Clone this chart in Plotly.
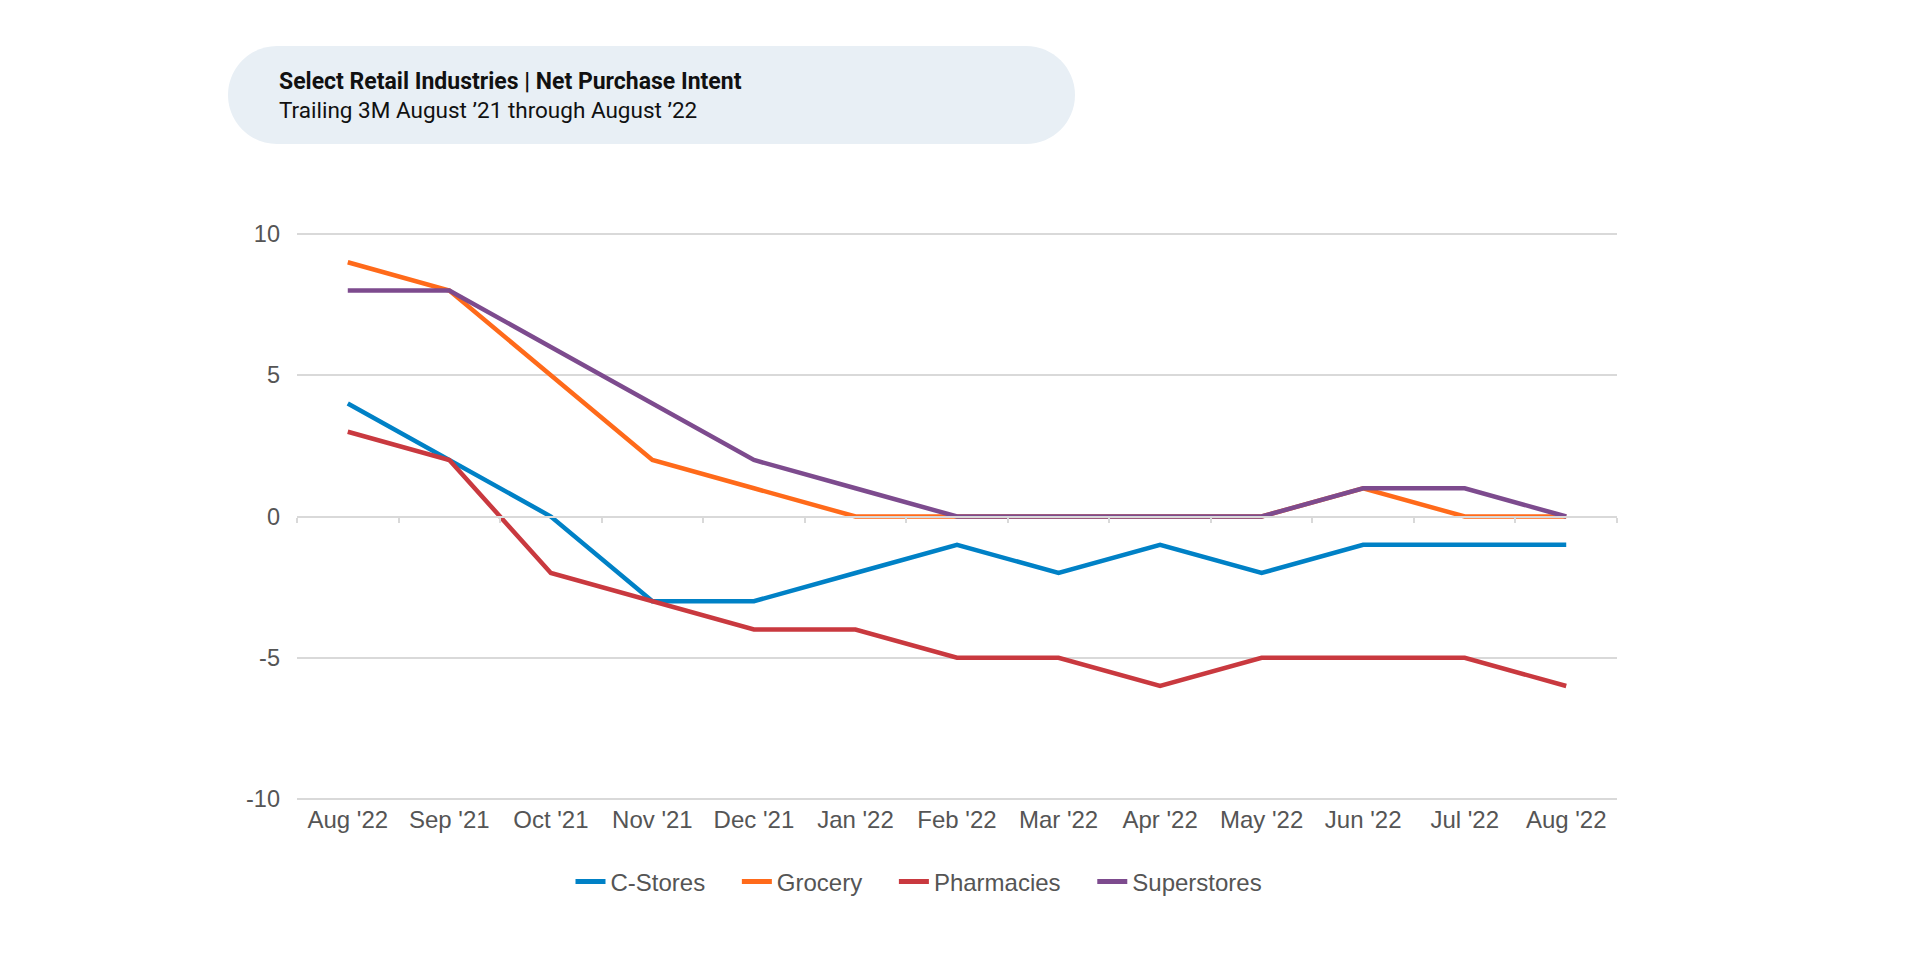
import plotly.graph_objects as go

months = ["Aug '22", "Sep '21", "Oct '21", "Nov '21", "Dec '21", "Jan '22", "Feb '22",
          "Mar '22", "Apr '22", "May '22", "Jun '22", "Jul '22", "Aug '22"]
c_stores = [4, 2, 0, -3, -3, -2, -1, -2, -1, -2, -1, -1, -1]
grocery = [9, 8, 5, 2, 1, 0, 0, 0, 0, 0, 1, 0, 0]
pharmacies = [3, 2, -2, -3, -4, -4, -5, -5, -6, -5, -5, -5, -6]
superstores = [8, 8, 6, 4, 2, 1, 0, 0, 0, 0, 1, 1, 0]
y_ticks = [-10, -5, 0, 5, 10]
y_ticktext = ["-10", "-5", "0", "5", "10"]

series_names = ["C-Stores", "Grocery", "Pharmacies", "Superstores"]
series_values = [c_stores, grocery, pharmacies, superstores]
colors = ["#0081C6", "#FF6A1A", "#C9393F", "#7D4B8E"]

# page body has an 8px default margin; work in figure coordinates
OFF = 8
W, H = 1920 - OFF, 960 - OFF
top_px, bot_px = 234, 799          # screen y of +10 and -10 gridlines
EXT = 3                            # extra px so edge gridlines are drawn
unit = (bot_px - top_px) / 20.0
pad = EXT / unit
L, T = 297 - OFF, top_px - OFF - EXT
R = W - (1617 - OFF)
B = H - (bot_px - OFF + EXT)
pw, ph = W - L - R, H - T - B

def px(x):
    return (x - OFF - L) / pw

def py(y):
    return (H - B - (y - OFF)) / ph

idx = list(range(len(months)))
fig = go.Figure()
for name, vals, col in zip(series_names, series_values, colors):
    fig.add_trace(go.Scatter(x=idx, y=vals, name=name + "\u00a0" * 4, mode="lines",
                             line=dict(color=col, width=4.5),
                             hovertemplate=name + ": %{y}<extra></extra>"))

# invisible trace for the zero-line tick axis
fig.add_trace(go.Scatter(x=[-0.5, 12.5], y=[0, 0], xaxis="x2", mode="lines",
                         line=dict(width=0), showlegend=False, hoverinfo="skip"))

# pill title box
x0, x1, y0, y1 = 228, 1075, 46, 144
r = (y1 - y0) / 2
k = 0.5523 * r
path = (f"M {px(x0 + r)} {py(y0)} L {px(x1 - r)} {py(y0)} "
        f"C {px(x1 - r + k)} {py(y0)} {px(x1)} {py(y0 + r - k)} {px(x1)} {py(y0 + r)} "
        f"C {px(x1)} {py(y1 - r + k)} {px(x1 - r + k)} {py(y1)} {px(x1 - r)} {py(y1)} "
        f"L {px(x0 + r)} {py(y1)} "
        f"C {px(x0 + r - k)} {py(y1)} {px(x0)} {py(y1 - r + k)} {px(x0)} {py(y1 - r)} "
        f"C {px(x0)} {py(y0 + r - k)} {px(x0 + r - k)} {py(y0)} {px(x0 + r)} {py(y0)} Z")
fig.add_shape(type="path", path=path, xref="paper", yref="paper",
              fillcolor="#E8EFF5", line=dict(width=0), layer="below")

fig.add_annotation(text="<b>Select Retail Industries | Net Purchase Intent</b>",
                   x=px(277), y=py(81), xref="paper", yref="paper", xanchor="left",
                   yanchor="middle", showarrow=False,
                   font=dict(family="Roboto", size=23, color="#111111"))
fig.add_annotation(text="Trailing 3M August \u201921 through August \u201922",
                   x=px(277), y=py(110), xref="paper", yref="paper", xanchor="left",
                   yanchor="middle", showarrow=False,
                   font=dict(family="Roboto", size=22.5, color="#111111"))

fig.update_layout(
    width=W, height=H,
    margin=dict(l=L, r=R, t=T, b=B, autoexpand=False),
    paper_bgcolor="white", plot_bgcolor="white",
    font=dict(family="Liberation Sans, Arial, sans-serif", size=24, color="#555555"),
    xaxis=dict(range=[-0.5, 12.5], tickmode="array", tickvals=idx, ticktext=months,
               showgrid=False, zeroline=False, showline=False, ticks="",
               ticklabelstandoff=1, tickfont=dict(size=24, color="#555555")),
    xaxis2=dict(range=[-0.5, 12.5], overlaying="x", anchor="free", position=0.5,
                side="bottom", tickmode="array", tickvals=[i - 0.5 for i in range(14)],
                showticklabels=False, ticks="outside", ticklen=5, tickcolor="#D9D9D9",
                tickwidth=2, showline=True, linecolor="#D9D9D9", linewidth=2,
                showgrid=False, zeroline=False),
    yaxis=dict(range=[-10 - pad, 10 + pad], tickmode="array", tickvals=y_ticks,
               ticktext=y_ticktext, showgrid=True,
               gridcolor="#D9D9D9", gridwidth=1.5, zeroline=False, showline=False,
               ticks="", ticklabelstandoff=16, tickfont=dict(size=23.5, color="#555555")),
    legend=dict(orientation="h", x=0.5 - 25.0 / pw, xanchor="center", y=py(882),
                yanchor="middle", font=dict(size=24, color="#555555"),
                traceorder="normal", itemsizing="constant"),
    showlegend=True,
)

fig.write_html("out.html")
